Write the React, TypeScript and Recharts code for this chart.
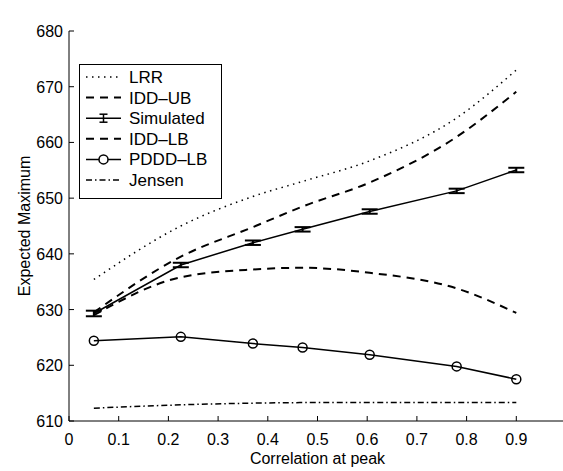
import React from 'react';
import { LineChart, Line, XAxis, YAxis, ErrorBar, Label } from 'recharts';

const xVals = [0.05, 0.225, 0.37, 0.47, 0.605, 0.78, 0.9];
const lrr = [635.4, 645.0, 650.3, 653.0, 656.7, 664.4, 673.0];
const iddUb = [629.5, 639.5, 644.8, 648.5, 652.8, 661.0, 669.1];
const simulated = [629.3, 638.0, 642.0, 644.4, 647.6, 651.3, 655.05];
const simErr = [0.5, 0.4, 0.4, 0.4, 0.4, 0.4, 0.4];
const iddLb = [629.0, 635.8, 637.2, 637.5, 636.6, 633.8, 629.4];
const pdddLb = [624.4, 625.1, 623.9, 623.2, 621.9, 619.8, 617.5];
const jensen = [612.3, 612.9, 613.2, 613.3, 613.3, 613.3, 613.3];

const xTicks = [0, 0.1, 0.2, 0.3, 0.4, 0.5, 0.6, 0.7, 0.8, 0.9, 1];
const xTickLabels = ['0', '0.1', '0.2', '0.3', '0.4', '0.5', '0.6', '0.7', '0.8', '0.9', ''];
const yTicks = [610, 620, 630, 640, 650, 660, 670, 680];

const data = xVals.map((x, i) => ({
  x,
  lrr: lrr[i],
  iddUb: iddUb[i],
  simulated: simulated[i],
  simErr: simErr[i],
  iddLb: iddLb[i],
  pdddLb: pdddLb[i],
  jensen: jensen[i],
}));

const FONT = '"Liberation Sans", Arial, Helvetica, sans-serif';
const FS = 16;

const fmtX = (v: number) => {
  const i = xTicks.findIndex((t) => Math.abs(t - v) < 1e-9);
  return i >= 0 ? xTickLabels[i] : String(v);
};

const BottomTick = (p: any) => (
  <g>
    <line x1={p.x} x2={p.x} y1={p.y} y2={p.y - 5} stroke="#000" strokeWidth={1} />
    <text x={p.x} y={p.y + 24} textAnchor="middle" fontFamily={FONT} fontSize={FS} fill="#000">
      {fmtX(p.payload.value)}
    </text>
  </g>
);
const TopTick = (p: any) => (
  <line x1={p.x} x2={p.x} y1={p.y} y2={p.y + 5} stroke="#000" strokeWidth={1} />
);
const LeftTick = (p: any) => (
  <g>
    <line x1={p.x} x2={p.x + 5} y1={p.y} y2={p.y} stroke="#000" strokeWidth={1} />
    <text x={p.x - 6} y={p.y + 6} textAnchor="end" fontFamily={FONT} fontSize={FS} fill="#000">
      {p.payload.value}
    </text>
  </g>
);
const RightTick = (p: any) => (
  <line x1={p.x} x2={p.x - 5} y1={p.y} y2={p.y} stroke="#000" strokeWidth={1} />
);

const legendItems = [
  { name: 'LRR', dash: '1.5 4.5', width: 1.5, kind: 'line' },
  { name: 'IDD\u2013UB', dash: '8 6', width: 2, kind: 'line' },
  { name: 'Simulated', dash: '', width: 1.5, kind: 'err' },
  { name: 'IDD\u2013LB', dash: '8 6', width: 2, kind: 'line' },
  { name: 'PDDD\u2013LB', dash: '', width: 1.5, kind: 'circle' },
  { name: 'Jensen', dash: '6 3 1.5 3', width: 1.5, kind: 'line' },
];

const LegendBox = () => (
  <div
    style={{
      position: 'absolute',
      left: 79,
      top: 64,
      width: 143,
      height: 135,
      background: '#fff',
      border: '1px solid #000',
      boxSizing: 'border-box',
    }}
  >
    <svg width={141} height={133} style={{ display: 'block' }}>
      {legendItems.map((it, i) => {
        const cy = 12 + i * 20.6;
        return (
          <g key={it.name}>
            <line x1={6} x2={41} y1={cy} y2={cy} stroke="#000" strokeWidth={it.width} strokeDasharray={it.dash || undefined} />
            {it.kind === 'err' && (
              <g stroke="#000" strokeWidth={1.5}>
                <line x1={23.5} x2={23.5} y1={cy - 4} y2={cy + 4} />
                <line x1={19.5} x2={27.5} y1={cy - 4} y2={cy - 4} />
                <line x1={19.5} x2={27.5} y1={cy + 4} y2={cy + 4} />
              </g>
            )}
            {it.kind === 'circle' && <circle cx={23.5} cy={cy} r={4.5} fill="#fff" stroke="#000" strokeWidth={1.5} />}
            <text x={49} y={cy + 6} fontFamily={FONT} fontSize={17} fill="#000">
              {it.name}
            </text>
          </g>
        );
      })}
    </svg>
  </div>
);

export default function App() {
  return (
    <div style={{ position: 'absolute', left: 0, top: 0, width: 563, height: 471, overflow: 'hidden', background: '#fff' }}>
      <LineChart
        width={570}
        height={471}
        data={data}
        margin={{ top: 31, right: 4, bottom: 20, left: 0 }}
      >
        <XAxis
          dataKey="x"
          type="number"
          domain={[0, 1]}
          ticks={xTicks}
          interval={0}
          allowDataOverflow
          height={30}
          tickSize={0}
          tickMargin={0}
          tickLine={false}
          axisLine={{ stroke: '#000', strokeWidth: 1 }}
          tick={<BottomTick />}
        >
          <Label
            content={(props: any) => {
              const vb = props.viewBox;
              return (
                <text x={vb.x + vb.width / 2} y={464} textAnchor="middle" fontFamily={FONT} fontSize={FS} fill="#000">
                  Correlation at peak
                </text>
              );
            }}
          />
        </XAxis>
        <XAxis
          xAxisId="top"
          orientation="top"
          type="number"
          domain={[0, 1]}
          ticks={xTicks}
          interval={0}
          allowDataOverflow
          height={0}
          tickSize={0}
          tickMargin={0}
          tickLine={false}
          axisLine={{ stroke: '#000', strokeWidth: 1 }}
          tick={<TopTick />}
        >
          <Label
            content={(props: any) => {
              const vb = props.viewBox;
              return (
                <text x={vb.x + vb.width / 2} y={22} textAnchor="middle" fontFamily={FONT} fontSize={FS} fill="#000">
                  As sample frequency changes
                </text>
              );
            }}
          />
        </XAxis>
        <YAxis
          type="number"
          domain={[610, 680]}
          ticks={yTicks}
          interval={0}
          allowDataOverflow
          width={69}
          tickSize={0}
          tickMargin={0}
          tickLine={false}
          axisLine={{ stroke: '#000', strokeWidth: 1 }}
          tick={<LeftTick />}
        >
          <Label
            content={(props: any) => {
              const vb = props.viewBox;
              const cy = vb.y + vb.height / 2;
              return (
                <text
                  x={24}
                  y={cy}
                  transform={`rotate(-90, 24, ${cy})`}
                  textAnchor="middle"
                  dominantBaseline="central"
                  fontFamily={FONT}
                  fontSize={FS}
                  fill="#000"
                >
                  Expected Maximum
                </text>
              );
            }}
          />
        </YAxis>
        <YAxis
          yAxisId="right"
          orientation="right"
          type="number"
          domain={[610, 680]}
          ticks={yTicks}
          interval={0}
          allowDataOverflow
          width={0}
          tickSize={0}
          tickMargin={0}
          tickLine={false}
          axisLine={{ stroke: '#000', strokeWidth: 1 }}
          tick={<RightTick />}
        />
        <Line type="monotone" dataKey="lrr" stroke="#000" strokeWidth={1.5} strokeDasharray="1.5 4.5" dot={false} isAnimationActive={false} />
        <Line type="monotone" dataKey="iddUb" stroke="#000" strokeWidth={2} strokeDasharray="8 6" dot={false} isAnimationActive={false} />
        <Line type="monotone" dataKey="iddLb" stroke="#000" strokeWidth={2} strokeDasharray="8 6" dot={false} isAnimationActive={false} />
        <Line type="monotone" dataKey="jensen" stroke="#000" strokeWidth={1.5} strokeDasharray="6 3 1.5 3" dot={false} isAnimationActive={false} />
        <Line type="linear" dataKey="simulated" stroke="#000" strokeWidth={1.5} dot={false} isAnimationActive={false}>
          <ErrorBar dataKey="simErr" width={8} stroke="#000" strokeWidth={2} direction="y" isAnimationActive={false} />
        </Line>
        <Line
          type="linear"
          dataKey="pdddLb"
          stroke="#000"
          strokeWidth={1.5}
          dot={{ r: 4.5, fill: 'none', stroke: '#000', strokeWidth: 1.5 }}
          isAnimationActive={false}
        />
      </LineChart>
      <LegendBox />
    </div>
  );
}
